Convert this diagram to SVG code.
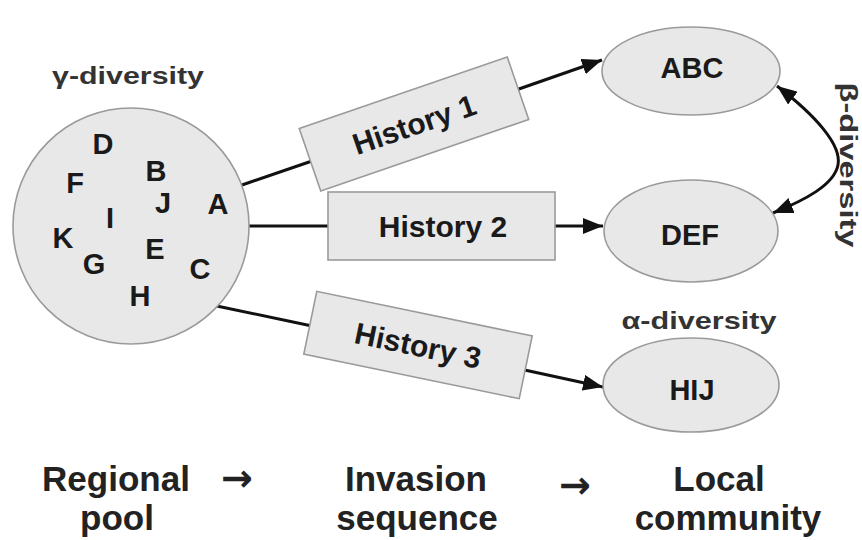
<svg xmlns="http://www.w3.org/2000/svg" width="862" height="540" viewBox="0 0 862 540">
<style>
.shape{fill:#e8e8e8;stroke:#9a9a9a;stroke-width:1.6}
.ln{fill:none;stroke:#111;stroke-width:3}
.t{font-family:"Liberation Sans",Arial,sans-serif;font-weight:bold;fill:#1a1a1a;text-anchor:middle}
.lt{font-size:29px}
.ht{font-size:30px}
.dv{font-size:24px;fill:#333}
.bt{font-size:35px;fill:#222}
.ar{font-family:"DejaVu Sans",sans-serif;font-weight:bold;font-size:38px;fill:#222;text-anchor:middle}
</style>
<defs>
<marker id="ah" markerUnits="userSpaceOnUse" markerWidth="20" markerHeight="16" refX="20" refY="8" orient="auto-start-reverse">
<path d="M0,0 L20,8 L0,16 z" fill="#111"/>
</marker>
</defs>
<rect width="862" height="540" fill="#fff"/>
<g id="connectors">
<line class="ln" x1="242" y1="185" x2="312" y2="161"/>
<line class="ln" x1="516" y1="90" x2="602" y2="60" marker-end="url(#ah)"/>
<line class="ln" x1="249" y1="226" x2="330" y2="226"/>
<line class="ln" x1="553" y1="226" x2="603" y2="226" marker-end="url(#ah)"/>
<line class="ln" x1="212" y1="305" x2="312" y2="326"/>
<line class="ln" x1="520" y1="369" x2="603" y2="387" marker-end="url(#ah)"/>
<path class="ln" d="M777 86 C815 115 842 145 838 165 C834 185 805 200 773 213" marker-start="url(#ah)" marker-end="url(#ah)"/>
</g>
<g id="pool">
<circle class="shape" cx="131" cy="226" r="118"/>
<text class="t lt" x="103" y="154">D</text>
<text class="t lt" x="75" y="193">F</text>
<text class="t lt" x="156" y="181">B</text>
<text class="t lt" x="163" y="213">J</text>
<text class="t lt" x="218" y="214">A</text>
<text class="t lt" x="110" y="228">I</text>
<text class="t lt" x="63" y="248">K</text>
<text class="t lt" x="94" y="274">G</text>
<text class="t lt" x="155" y="259">E</text>
<text class="t lt" x="200" y="279">C</text>
<text class="t lt" x="140" y="306">H</text>
</g>
<g id="gamma-label">
<text class="t dv" x="128" y="84" textLength="152" lengthAdjust="spacingAndGlyphs">γ-diversity</text>
</g>
<g id="history1" transform="translate(414,124) rotate(-19)">
<rect class="shape" x="-110" y="-33" width="220" height="66"/>
<text class="t ht" x="0" y="11">History 1</text>
</g>
<g id="history2">
<rect class="shape" x="328" y="192" width="227" height="68"/>
<text class="t ht" x="443" y="237">History 2</text>
</g>
<g id="history3" transform="translate(418,345) rotate(11.7)">
<rect class="shape" x="-110" y="-32" width="220" height="64"/>
<text class="t ht" x="0" y="11">History 3</text>
</g>
<g id="abc">
<ellipse class="shape" cx="691" cy="71" rx="89" ry="44"/>
<text class="t lt" x="692" y="78">ABC</text>
</g>
<g id="def">
<ellipse class="shape" cx="691" cy="231" rx="87" ry="51"/>
<text class="t lt" x="690" y="245">DEF</text>
</g>
<g id="hij">
<ellipse class="shape" cx="691" cy="385" rx="88" ry="47"/>
<text class="t lt" x="692" y="400">HIJ</text>
</g>
<g id="alpha-label">
<text class="t dv" x="699" y="329" textLength="155" lengthAdjust="spacingAndGlyphs">α-diversity</text>
</g>
<g id="beta-label">
<text class="t dv" transform="translate(840,165) rotate(90)" x="0" y="0" textLength="165" lengthAdjust="spacingAndGlyphs">β-diversity</text>
</g>
<g id="bottom-labels">
<text class="t bt" x="116" y="491">Regional</text>
<text class="t bt" x="117" y="530">pool</text>
<text class="ar" x="237" y="491">→</text>
<text class="t bt" x="416" y="491">Invasion</text>
<text class="t bt" x="417" y="530">sequence</text>
<text class="ar" x="575" y="498">→</text>
<text class="t bt" x="719" y="491">Local</text>
<text class="t bt" x="728" y="530">community</text>
</g>
</svg>
